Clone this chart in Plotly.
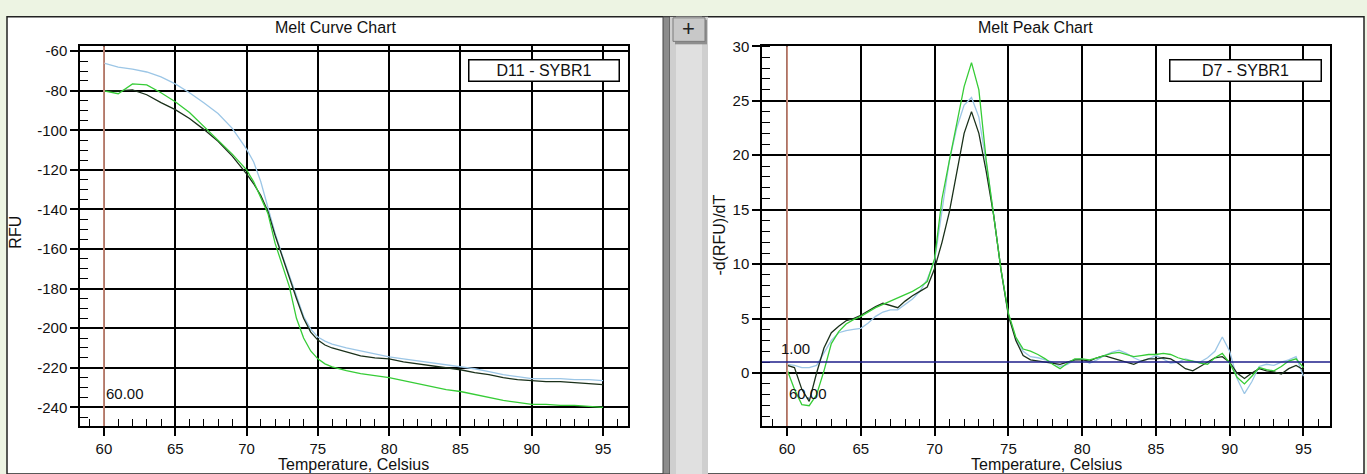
import plotly.graph_objects as go

W, H = 1367, 474

# ---------------- data ----------------
curve_temp = [60, 61, 62, 63, 64, 65, 66, 67, 68, 69,
              70, 70.5, 71, 71.5, 72, 72.5, 73, 73.5, 74, 74.5,
              75, 75.5, 76, 77, 78, 79, 80, 81, 82, 83,
              84, 85, 86, 87, 88, 89, 90, 91, 92, 93, 94, 95]
rfu_blue = [-66, -68, -69, -70.5, -73, -76.5, -81, -86, -91.5, -99,
            -109.5, -116, -126, -139, -152, -163, -173, -184, -194, -200.5,
            -204.5, -206.5, -208, -210, -211.5, -213, -214.5, -215.5, -216.5, -217.5,
            -218.5, -219.5, -220.5, -222, -223.5, -224.5, -225.5, -225.5, -225.5, -226, -226, -226.5]
rfu_dark = [-80, -80, -79.5, -82, -86, -89.5, -94, -99.5, -105.5, -113,
            -122, -127, -133, -141, -153, -164, -174, -185, -195, -202,
            -206, -208.5, -210, -212, -214, -215, -215.5, -217, -218, -219,
            -220, -221, -222.5, -223.5, -225, -226, -226.5, -227, -227, -227.5, -228, -228.5]
rfu_green = [-80, -81.5, -76.5, -77, -81, -85.5, -91, -98, -105, -112,
             -120, -126, -134, -142, -157, -168, -179, -195, -205, -211.5,
             -215.5, -218, -219.5, -221.5, -223, -224, -225, -226.5, -228, -229.5,
             -231, -232, -233.5, -235, -236.5, -237.5, -238.5, -238.5, -239, -239, -239.5, -240]

peak_temp = [60, 60.5, 61, 61.5, 62, 62.5, 63, 63.5, 64, 64.5,
             65, 65.5, 66, 66.5, 67, 67.5, 68, 68.5, 69, 69.5,
             70, 70.5, 71, 71.5, 72, 72.5, 73, 73.5, 74, 74.5,
             75, 75.5, 76, 76.5, 77, 77.5, 78, 78.5, 79, 79.5,
             80, 80.5, 81, 81.5, 82, 82.5, 83, 83.5, 84, 84.5,
             85, 85.5, 86, 86.5, 87, 87.5, 88, 88.5, 89, 89.5,
             90, 90.5, 91, 91.5, 92, 92.5, 93, 93.5, 94, 94.5, 95]
peak_green = [0.3, -1.5, -2.9, -3.0, -2.0, 0.2, 2.7, 3.8, 4.5, 4.9,
              5.2, 5.6, 6.0, 6.3, 6.6, 6.9, 7.2, 7.5, 7.9, 8.4,
              10.5, 16.0, 19.5, 23.0, 26.3, 28.5, 26.0, 19.5, 14.7, 9.5,
              5.5, 3.3, 2.2, 2.0, 1.7, 1.3, 0.8, 0.4, 0.9, 1.3,
              1.3, 1.2, 1.4, 1.6, 1.8, 1.9, 1.7, 1.5, 1.6, 1.7,
              1.7, 1.8, 1.7, 1.4, 1.2, 1.1, 0.9, 0.8, 1.4, 1.8,
              0.9, -0.4, -1.0, -0.3, 0.5, 0.3, 0.2, 0.6, 1.1, 1.3, 0.5]
peak_blue = [0.8, 0.7, 0.5, 0.5, 0.7, 1.8, 3.0, 3.7, 3.9, 4.0,
             4.1, 4.6, 5.2, 5.6, 5.8, 5.8, 6.3, 6.8, 7.5, 8.6,
             10.3, 15.0, 19.5, 22.5, 24.6, 25.3, 23.5, 19.3, 14.6, 9.4,
             5.4, 3.2, 2.0, 1.5, 1.4, 1.2, 1.0, 0.6, 0.8, 1.2,
             1.3, 0.9, 1.2, 1.6, 1.9, 2.1, 1.8, 1.4, 1.1, 1.3,
             1.6, 1.3, 0.9, 1.0, 1.3, 1.1, 1.0, 1.4, 2.0, 3.3,
             2.0, -0.5, -1.9, -0.8, 0.6, 0.8, 0.7, 1.0, 1.2, 1.5, -0.3]
peak_dark = [0.7, 0.5, -1.5, -2.6, 0.0, 2.3, 3.7, 4.3, 4.8, 5.0,
             5.3, 5.7, 6.1, 6.4, 6.2, 6.0, 6.6, 7.1, 7.5, 7.9,
             9.6, 12.0, 14.8, 18.5, 22.0, 24.0, 22.0, 18.5, 14.5, 9.5,
             5.3, 3.0, 1.6, 1.2, 1.1, 1.0, 0.9, 0.8, 1.0, 1.2,
             1.2, 1.1, 1.4, 1.6, 1.4, 1.2, 1.0, 0.8, 1.1, 1.3,
             1.3, 1.4, 1.3, 0.9, 0.4, 0.2, 0.6, 1.0, 1.4, 1.5,
             1.0, 0.0, -0.5, 0.0, 0.4, 0.2, 0.1, -0.1, 0.4, 0.7, 0.3]

x_ticks = [60, 65, 70, 75, 80, 85, 90, 95]
x_ticktext = ["60", "65", "70", "75", "80", "85", "90", "95"]
rfu_ticks = [-60, -80, -100, -120, -140, -160, -180, -200, -220, -240]
rfu_ticktext = ["-60", "-80", "-100", "-120", "-140", "-160", "-180", "-200", "-220", "-240"]
peak_ticks = [0, 5, 10, 15, 20, 25, 30]
peak_ticktext = ["0", "5", "10", "15", "20", "25", "30"]

marker_temp = 60
threshold = 1.0
left_title = "Melt Curve Chart"
right_title = "Melt Peak Chart"
left_well = "D11 - SYBR1"
right_well = "D7 - SYBR1"
x_title = "Temperature, Celsius"
left_ytitle = "RFU"
right_ytitle = "-d(RFU)/dT"

# ---------------- helpers ----------------
def px(x):
    return x / W

def py(y):
    return 1 - y / H

FONT = "Liberation Sans"
C_DARK = "#1a301a"
C_GREEN = "#36cc36"
C_BLUE = "#9cc6e6"
C_MARK = "#e6a08e"

fig = go.Figure()

for xs, ys, col, ax in [
    (curve_temp, rfu_blue, C_BLUE, ("x", "y")),
    (curve_temp, rfu_dark, C_DARK, ("x", "y")),
    (curve_temp, rfu_green, C_GREEN, ("x", "y")),
    (peak_temp, peak_blue, C_BLUE, ("x2", "y2")),
    (peak_temp, peak_dark, C_DARK, ("x2", "y2")),
    (peak_temp, peak_green, C_GREEN, ("x2", "y2")),
]:
    fig.add_trace(go.Scatter(x=xs, y=ys, mode="lines", xaxis=ax[0], yaxis=ax[1],
                             line=dict(color=col, width=1.3), showlegend=False,
                             hoverinfo="skip"))

ydom = [py(425), py(38)]
common = dict(showline=True, linecolor="black", linewidth=1.5, mirror=True,
              showgrid=True, gridcolor="black", gridwidth=1.6, zeroline=False,
              ticks="outside", ticklen=8, tickwidth=1.5, tickcolor="black",
              tickmode="array",
              tickfont=dict(family=FONT, size=15, color="#111"))

def minor(d, ln):
    return dict(tickmode="linear", tick0=0, dtick=d, ticks="inside", ticklen=ln,
                tickcolor="black", tickwidth=1, showgrid=False)

fig.update_layout(
    width=W, height=H, margin=dict(l=0, r=0, t=0, b=0),
    paper_bgcolor="#edf4e3", plot_bgcolor="rgba(0,0,0,0)",
    xaxis=dict(domain=[px(80), px(628)], range=[58.32, 96.75], anchor="y",
               tickvals=x_ticks, ticktext=x_ticktext, minor=minor(1, 7), **common),
    yaxis=dict(domain=ydom, range=[-249.4, -57.5], anchor="x",
               tickvals=rfu_ticks, ticktext=rfu_ticktext, minor=minor(5, 8), **common),
    xaxis2=dict(domain=[px(762), px(1330)], range=[58.3, 96.8], anchor="y2",
                tickvals=x_ticks, ticktext=x_ticktext, minor=minor(1, 7), **common),
    yaxis2=dict(domain=ydom, range=[-4.86, 30], anchor="x2",
                tickvals=peak_ticks, ticktext=peak_ticktext, minor=minor(1, 8), **common),
)

shapes = []
# white window
shapes.append(dict(type="rect", xref="paper", yref="paper", x0=px(7), x1=px(1364),
                   y0=py(474), y1=py(8), fillcolor="white",
                   line=dict(color="#222", width=1.5), layer="below"))
# splitter
shapes.append(dict(type="rect", xref="paper", yref="paper", x0=px(663), x1=px(670),
                   y0=py(474), y1=py(8), fillcolor="#8c8c8c",
                   line=dict(color="#444", width=1), layer="below"))
shapes.append(dict(type="rect", xref="paper", yref="paper", x0=px(670), x1=px(708),
                   y0=py(474), y1=py(8), fillcolor="#cfcfcf", line=dict(width=0), layer="below"))
shapes.append(dict(type="rect", xref="paper", yref="paper", x0=px(676), x1=px(702),
                   y0=py(474), y1=py(8), fillcolor="#e0e0e0", line=dict(width=0), layer="below"))
# "+" button
shapes.append(dict(type="rect", xref="paper", yref="paper", x0=px(675), x1=px(707),
                   y0=py(36), y1=py(11), fillcolor="#8e8e8e", line=dict(width=0), layer="below"))
shapes.append(dict(type="rect", xref="paper", yref="paper", x0=px(673), x1=px(705),
                   y0=py(33), y1=py(9), fillcolor="#c8c8c8",
                   line=dict(color="#7a7a7a", width=1), layer="below"))
# marker lines
shapes.append(dict(type="line", xref="x", yref="y domain", x0=marker_temp, x1=marker_temp,
                   y0=0, y1=1, line=dict(color=C_MARK, width=1.6)))
shapes.append(dict(type="line", xref="x2", yref="y2 domain", x0=marker_temp, x1=marker_temp,
                   y0=0, y1=1, line=dict(color=C_MARK, width=1.6)))
shapes.append(dict(type="line", xref="x2 domain", yref="y2", x0=0, x1=1,
                   y0=threshold, y1=threshold, line=dict(color="#1e1e8a", width=1.5)))
fig.update_layout(shapes=shapes)

f = dict(family=FONT, size=16, color="#111")
fs = dict(family=FONT, size=15, color="#111")
ann = []
def A(**kw):
    kw.setdefault("showarrow", False)
    kw.setdefault("xanchor", "center")
    kw.setdefault("yanchor", "middle")
    ann.append(kw)

A(text=left_title, x=px(335), y=py(19), xref="paper", yref="paper", font=f)
A(text=right_title, x=px(1035), y=py(19), xref="paper", yref="paper", font=f)
for cx in (px(354), px(1046)):
    A(text=x_title, x=cx, y=py(464), xref="paper", yref="paper", font=f)
A(text=left_ytitle, x=px(16), y=py(228), xref="paper", yref="paper", textangle=-90, font=f)
A(text=right_ytitle, x=px(720), y=py(231), xref="paper", yref="paper", textangle=-90, font=f)
for x0, x1, t in [(468, 619, left_well), (1169, 1321, right_well)]:
    A(text=t, x=px((x0 + x1) / 2), y=py(63), xref="paper", yref="paper",
      font=dict(family=FONT, size=16, color="#111"),
      bgcolor="white", bordercolor="black", borderwidth=1.5,
      width=x1 - x0 - 4, height=18, borderpad=1)
A(text="+", x=px(689), y=py(20), xref="paper", yref="paper",
  font=dict(family=FONT, size=22, color="#222"))
# marker labels
A(text=f"{marker_temp:.2f}", x=marker_temp, xref="x", y=py(392), yref="paper",
  xanchor="left", font=fs)
A(text=f"{marker_temp:.2f}", x=marker_temp, xref="x2", y=py(392), yref="paper",
  xanchor="left", font=fs)
A(text=f"{threshold:.2f}", x=marker_temp, xref="x2", xshift=-8,
  y=threshold, yref="y2", yanchor="bottom", yshift=3, xanchor="left", font=fs)
fig.update_layout(annotations=ann)

fig.write_html("out.html")
